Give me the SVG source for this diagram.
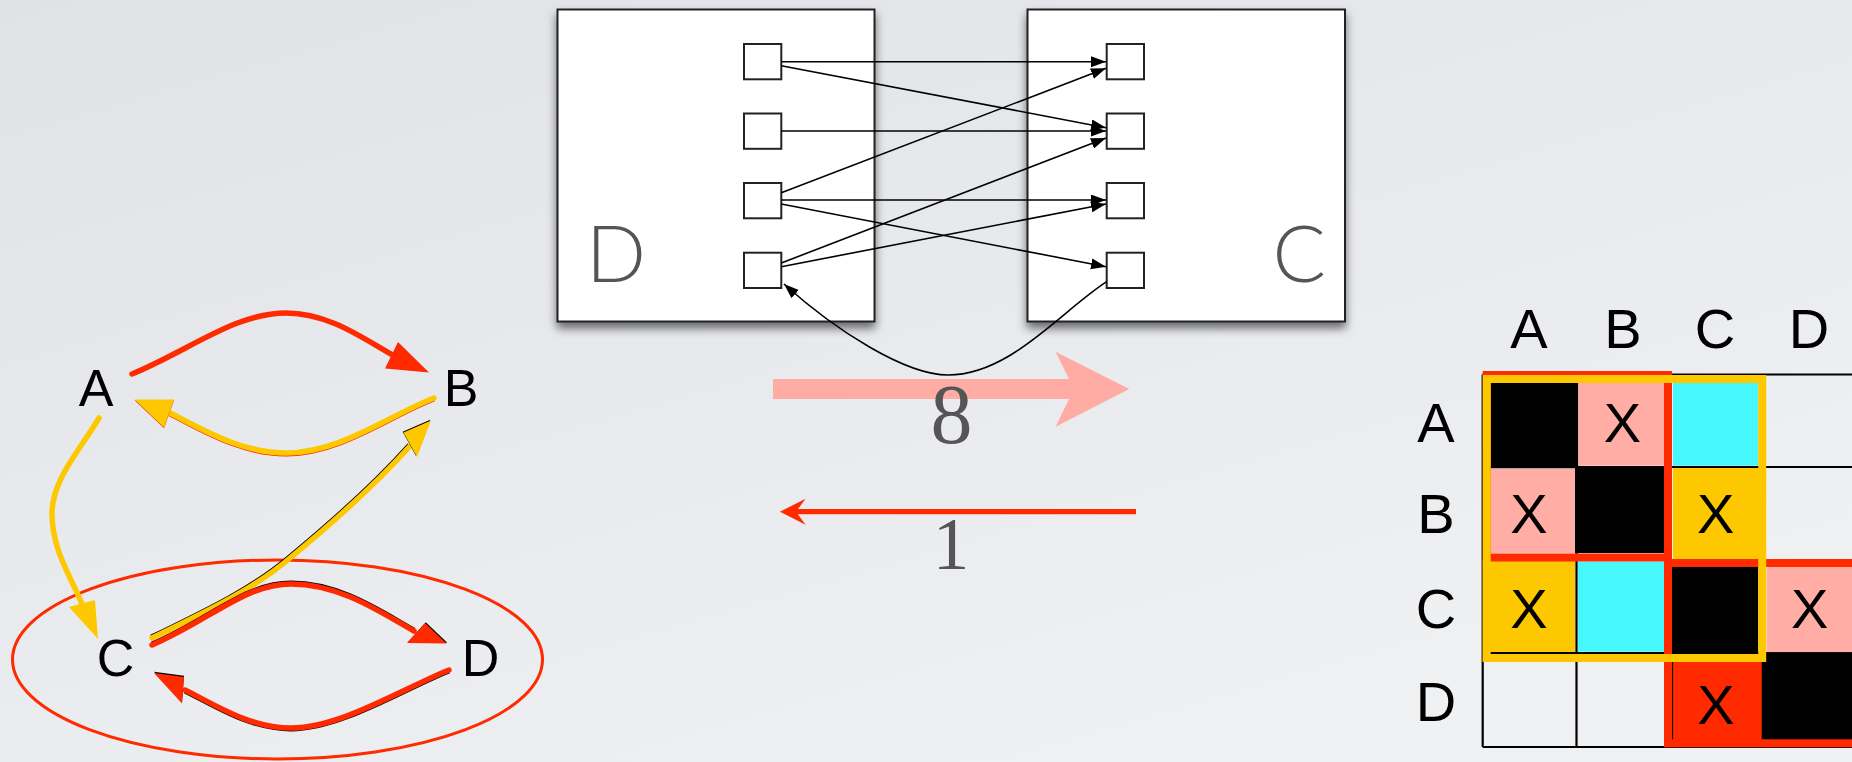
<svg xmlns="http://www.w3.org/2000/svg" width="1852" height="762" viewBox="0 0 1852 762">
<defs>
<linearGradient id="bg" x1="0" y1="0" x2="0.7" y2="1">
<stop offset="0" stop-color="#e0e2e6"/>
<stop offset="1" stop-color="#f0f1f3"/>
</linearGradient>
<filter id="shadow" x="-10%" y="-10%" width="120%" height="125%">
<feDropShadow dx="0" dy="6" stdDeviation="5" flood-color="#000" flood-opacity="0.55"/>
</filter>
<marker id="ah" markerUnits="userSpaceOnUse" markerWidth="16" markerHeight="12" refX="15" refY="5.5" orient="auto">
<path d="M0,0 L15,5.5 L0,11 z" fill="#000"/>
</marker>
<style>
.big{fill:#fff;stroke:#222;stroke-width:2}
.port{fill:#fff;stroke:#222;stroke-width:2}
.wire{fill:none;stroke:#000;stroke-width:1.6}
.big-lbl{font-family:Lato,"Open Sans","Liberation Sans",sans-serif;font-weight:300;font-size:79px;fill:#555}
.num{font-family:"Liberation Serif",serif;fill:#555;text-anchor:middle}
.g-lbl{font-family:"Liberation Sans",Arial,sans-serif;font-size:52px;fill:#000;text-anchor:middle}
.m-lbl{font-family:"Liberation Sans",Arial,sans-serif;font-size:56px;fill:#000;text-anchor:middle}
.red{fill:none;stroke:#ff2a00;stroke-width:5.5;stroke-linecap:round}
.yel{fill:none;stroke:#fdc800;stroke-width:5.5;stroke-linecap:round}
.edge{fill:none;stroke:#000;stroke-width:5}
.edge-r{fill:none;stroke:#ff2a00;stroke-width:5}
</style>
</defs>
<rect width="1852" height="762" fill="url(#bg)"/>

<!-- Left graph -->
<g id="graph-ellipse">
<ellipse cx="277.5" cy="659.5" rx="265" ry="99.5" fill="none" stroke="#ff2a00" stroke-width="3"/>
</g>
<g id="graph-edges">
<!-- A to B -->
<path class="red" d="M132,374 C190,350 235,313 286,313 C330,313 365,340 396,357"/>
<polygon points="429,372.5 398,342 385,368.5" fill="#ff2a00"/>
<!-- B to A -->
<path class="edge-r" transform="translate(0,1)" d="M434,398 C390,415 340,453 286,453 C240,453 200,428 170,413"/>
<path class="yel" d="M434,398 C390,415 340,453 286,453 C240,453 200,428 170,413"/>
<polygon points="134.5,399.5 174,399.5 164,427.5" fill="#ff2a00" transform="translate(0,0.8)"/>
<polygon points="134.5,399.5 174,399.5 164,427.5" fill="#fdc800"/>
<!-- A to C -->
<path class="yel" d="M99,418 C80,450 52,480 52,513 C52,550 70,575 82,604"/>
<polygon points="98,639 69,607 95,600" fill="#fdc800"/>
<!-- C to B -->
<path class="edge" transform="translate(-0.6,-0.9)" d="M152,638 C210,610 255,588 290,558 C330,525 375,485 410,446"/>
<path class="yel" d="M152,638 C210,610 255,588 290,558 C330,525 375,485 410,446"/>
<polygon points="431,420.5 403.5,432.5 417,457" fill="#000" transform="translate(-0.8,-0.8)"/>
<polygon points="431,420.5 403.5,432.5 417,457" fill="#fdc800"/>
<!-- C to D -->
<path class="edge" transform="translate(0,-0.9)" d="M152,645 C210,620 245,584 291,584 C340,584 380,612 414,631"/>
<path class="red" d="M152,645 C210,620 245,584 291,584 C340,584 380,612 414,631"/>
<polygon points="446.5,643.5 425,623 407,643" fill="#000" transform="translate(0.8,-0.8)"/>
<polygon points="446.5,643.5 425,623 407,643" fill="#ff2a00"/>
<!-- D to C -->
<path class="edge" transform="translate(0,0.9)" d="M449,670 C400,690 340,728 291,728 C250,728 215,705 185,690"/>
<path class="red" d="M449,670 C400,690 340,728 291,728 C250,728 215,705 185,690"/>
<polygon points="154,673 184,677 182,703.5" fill="#000" transform="translate(0,-1.2)"/>
<polygon points="154,673 184,677 182,703.5" fill="#ff2a00"/>
</g>
<g id="node-A"><text class="g-lbl" x="96" y="406">A</text></g>
<g id="node-B"><text class="g-lbl" x="461" y="406">B</text></g>
<g id="node-C"><text class="g-lbl" x="115.5" y="675.5">C</text></g>
<g id="node-D"><text class="g-lbl" x="480.5" y="676">D</text></g>

<!-- Component boxes -->
<g id="box-D">
<rect class="big" x="557.5" y="9.5" width="317" height="312" filter="url(#shadow)"/>
<text class="big-lbl" x="586" y="281.7">D</text>
<rect class="port" x="744" y="44" width="37.3" height="35.3"/>
<rect class="port" x="744" y="113.5" width="37.3" height="35.3"/>
<rect class="port" x="744" y="183" width="37.3" height="35.3"/>
<rect class="port" x="744" y="252.7" width="37.3" height="35.3"/>
</g>
<g id="box-C">
<rect class="big" x="1027.5" y="9.5" width="317.5" height="312" filter="url(#shadow)"/>
<text class="big-lbl" x="1326" y="281.7" text-anchor="end">C</text>
<rect class="port" x="1106.7" y="44" width="37.3" height="35.3"/>
<rect class="port" x="1106.7" y="113.5" width="37.3" height="35.3"/>
<rect class="port" x="1106.7" y="183" width="37.3" height="35.3"/>
<rect class="port" x="1106.7" y="252.7" width="37.3" height="35.3"/>
</g>
<g id="port-connectors">
<line class="wire" marker-end="url(#ah)" x1="781.3" y1="61.7" x2="1106" y2="61.7"/>
<line class="wire" marker-end="url(#ah)" x1="781.3" y1="65.7" x2="1106" y2="127.7"/>
<line class="wire" marker-end="url(#ah)" x1="781.3" y1="131" x2="1106" y2="131"/>
<line class="wire" marker-end="url(#ah)" x1="781.3" y1="192.7" x2="1106" y2="68.3"/>
<line class="wire" marker-end="url(#ah)" x1="781.3" y1="200" x2="1106" y2="200"/>
<line class="wire" marker-end="url(#ah)" x1="781.3" y1="204" x2="1106" y2="266.7"/>
<line class="wire" marker-end="url(#ah)" x1="781.3" y1="263" x2="1106" y2="138"/>
<line class="wire" marker-end="url(#ah)" x1="781.3" y1="266.7" x2="1106" y2="204"/>
<path class="wire" marker-end="url(#ah)" d="M1106.7,281.7 C1060,312 1010,375 948,375 C905,375 835,330 784,284"/>
</g>

<!-- Middle arrows -->
<g id="arrow-8">
<polygon points="773,379 1069,379 1055.6,351.7 1129.3,389 1055.6,426.7 1069,399 773,399" fill="#ffaca4"/>
<text class="num" x="951.5" y="443.3" font-size="84">8</text>
</g>
<g id="arrow-1">
<line x1="1136" y1="511.7" x2="796" y2="511.7" stroke="#ff2a00" stroke-width="5.3"/>
<polygon points="780,511.7 805.6,498.7 796,511.7 805.6,524.7" fill="#ff2a00"/>
<text class="num" x="951" y="569.3" font-size="73">1</text>
</g>

<!-- Matrix -->
<g id="matrix">
<g stroke="#000" stroke-width="2.2" fill="none">
<line x1="1482.7" y1="374.5" x2="1852" y2="374.5"/>
<line x1="1482.7" y1="467" x2="1852" y2="467"/>
<line x1="1482.7" y1="560" x2="1852" y2="560"/>
<line x1="1482.7" y1="653" x2="1852" y2="653"/>
<line x1="1482.7" y1="747" x2="1852" y2="747"/>
<line x1="1482.7" y1="374.5" x2="1482.7" y2="747"/>
<line x1="1576.5" y1="374.5" x2="1576.5" y2="747"/>
<line x1="1669" y1="374.5" x2="1669" y2="747"/>
<line x1="1762" y1="374.5" x2="1762" y2="747"/>
</g>
<rect x="1490.7" y="382.7" width="87.6" height="85.6" fill="#000"/>
<rect x="1578.3" y="382.7" width="86.7" height="83" fill="#ffada5"/>
<rect x="1673" y="382.7" width="85" height="83" fill="#46f8fb"/>
<rect x="1490.7" y="469" width="84.3" height="84" fill="#ffada5"/>
<rect x="1575" y="466.5" width="90" height="86.5" fill="#000"/>
<rect x="1673" y="468" width="93" height="91" fill="#fdc800"/>
<rect x="1482.7" y="560" width="92.3" height="101.7" fill="#fdc800"/>
<line x1="1490" y1="653" x2="1575" y2="653" stroke="#000" stroke-width="2"/>
<rect x="1578" y="561.7" width="86" height="90" fill="#46f8fb"/>
<rect x="1671.7" y="566.7" width="86.6" height="87.3" fill="#000"/>
<rect x="1766.7" y="566.7" width="86" height="85.6" fill="#ffada5"/>
<rect x="1668" y="654" width="94" height="89" fill="#ff2a00"/>
<line x1="1672.5" y1="660" x2="1672.5" y2="740" stroke="#000" stroke-width="1.2"/>
<rect x="1761.7" y="652.3" width="91" height="88" fill="#000"/>
<rect x="1486.7" y="375" width="181.3" height="182.5" fill="none" stroke="#ff2a00" stroke-width="8"/>
<rect x="1668" y="563" width="200" height="180.3" fill="none" stroke="#ff2a00" stroke-width="8"/>
<rect x="1486.7" y="379" width="275.5" height="279" fill="none" stroke="#fdc800" stroke-width="8"/>
<g>
<text class="m-lbl" x="1529" y="348">A</text>
<text class="m-lbl" x="1623" y="348">B</text>
<text class="m-lbl" x="1715" y="348">C</text>
<text class="m-lbl" x="1809" y="348">D</text>
<text class="m-lbl" x="1436" y="441.7">A</text>
<text class="m-lbl" x="1436" y="533.3">B</text>
<text class="m-lbl" x="1436" y="628.3">C</text>
<text class="m-lbl" x="1436" y="720.7">D</text>
<text class="m-lbl" x="1622.5" y="441.7">X</text>
<text class="m-lbl" x="1529" y="533.3">X</text>
<text class="m-lbl" x="1715.8" y="533.3">X</text>
<text class="m-lbl" x="1529" y="628.3">X</text>
<text class="m-lbl" x="1809.7" y="628.3">X</text>
<text class="m-lbl" x="1716" y="724">X</text>
</g>
</g>
</svg>
